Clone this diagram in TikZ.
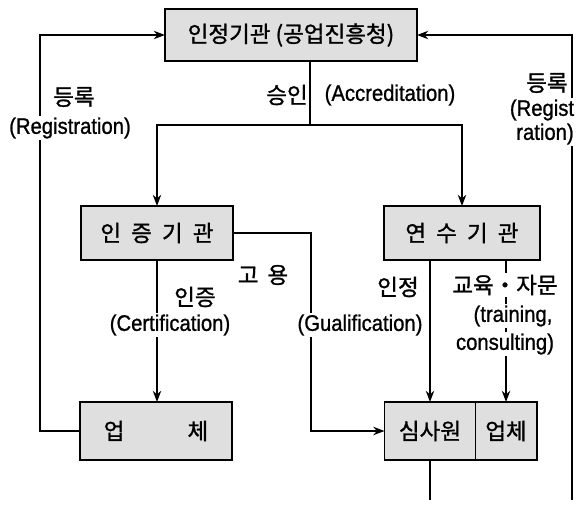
\documentclass[tikz,border=0pt]{standalone}
\usepackage{fontspec}
\setmainfont{Liberation Sans}[FakeStretch=0.9, FakeBold=1]
\newfontfamily\kr{Noto Sans CJK KR}[FakeBold=1.2]
\usetikzlibrary{positioning, arrows.meta}

\begin{document}
\begin{tikzpicture}[x=0.025cm, y=-0.025cm, >={Stealth[length=8pt, width=6pt]}, line width=0.9pt,
    box/.style={draw, line width=1.4pt, fill=gray!25, outer sep=0pt, minimum height=1.35cm, font=\kr\fontsize{16}{18}\selectfont},
    lbl/.style={fill=white, inner sep=1pt, font=\fontsize{16}{18}\selectfont},
    klbl/.style={lbl, font=\kr\fontsize{16}{18}\selectfont}]
    \useasboundingbox (0,0) rectangle (580,508);

    % Boxes
    \node[box, minimum width=6.3cm, minimum height=1.3cm] (auth) at (291,35) {인정기관 (공업진흥청)};
    \node[box, minimum width=3.8cm] (cert) at (157,233) {인\hspace{.45em}증\hspace{.45em}기\hspace{.45em}관};
    \node[box, minimum width=3.9cm] (train) at (462,233) {연\hspace{.45em}수\hspace{.45em}기\hspace{.45em}관};
    \node[box, minimum width=3.8cm, minimum height=1.45cm] (firm) at (156,431) {업\hspace{2.8em}체};
    \node[box, minimum width=2.275cm, minimum height=1.45cm] (auditor) at (430,431) {심사원};
    \node[box, minimum width=1.525cm, minimum height=1.45cm, right=0pt of auditor] (firm2) {업체};

    \coordinate (split) at (310,125);
    \coordinate (endR) at (572,500);
    \coordinate (endB) at (auditor.south |- endR);

    % Accreditation
    \draw (auth.south -| split) -- (split);
    \draw[->] (split) -| (cert.north);
    \draw[->] (split) -| (train.north);

    % Registration
    \draw[->] (firm.west) -- ++(-40,0) |- (auth.west);
    \draw[->] (endR) |- (auth.east);

    % Employment, certification, qualification
    \draw[->] (cert.east) -- ++(78,0) |- (auditor.west);
    \draw[->] (cert.south) -- (cert.south |- firm.north);
    \draw[->] (train.south -| auditor.north) -- (auditor.north);
    \draw[->] (train.south -| firm2.north) -- (firm2.north);
    \draw (auditor.south) -- (endB);

    % Labels
    \node[klbl] (regkL) at (74,97) {등록};
    \node[lbl] (regL) at (70,128) {(Registration)};
    \node[klbl] (accrk) at (287,95) {승인};
    \node[lbl] (accr) at (390,95) {(Accreditation)};
    \node[klbl] (regkR) at (547,83) {등록};
    \node[lbl] (regR1) at (542,110) {(Regist};
    \node[lbl] (regR2) at (545,134) {ration)};
    \node[klbl] (certk) at (195,297) {인증};
    \node[lbl] (certl) at (170,325) {(Certification)};
    \node[klbl] (empk) at (263,275) {고\hspace{.4em}용};
    \node[klbl] (qualk) at (398,287) {인정};
    \node[lbl] (qual) at (360,325) {(Gualification)};
    \node[klbl] (trk) at (505,285) {교육・자문};
    \node[lbl] (tr1) at (513,316) {(training,};
    \node[lbl] (tr2) at (505,344) {consulting)};
\end{tikzpicture}
\end{document}
